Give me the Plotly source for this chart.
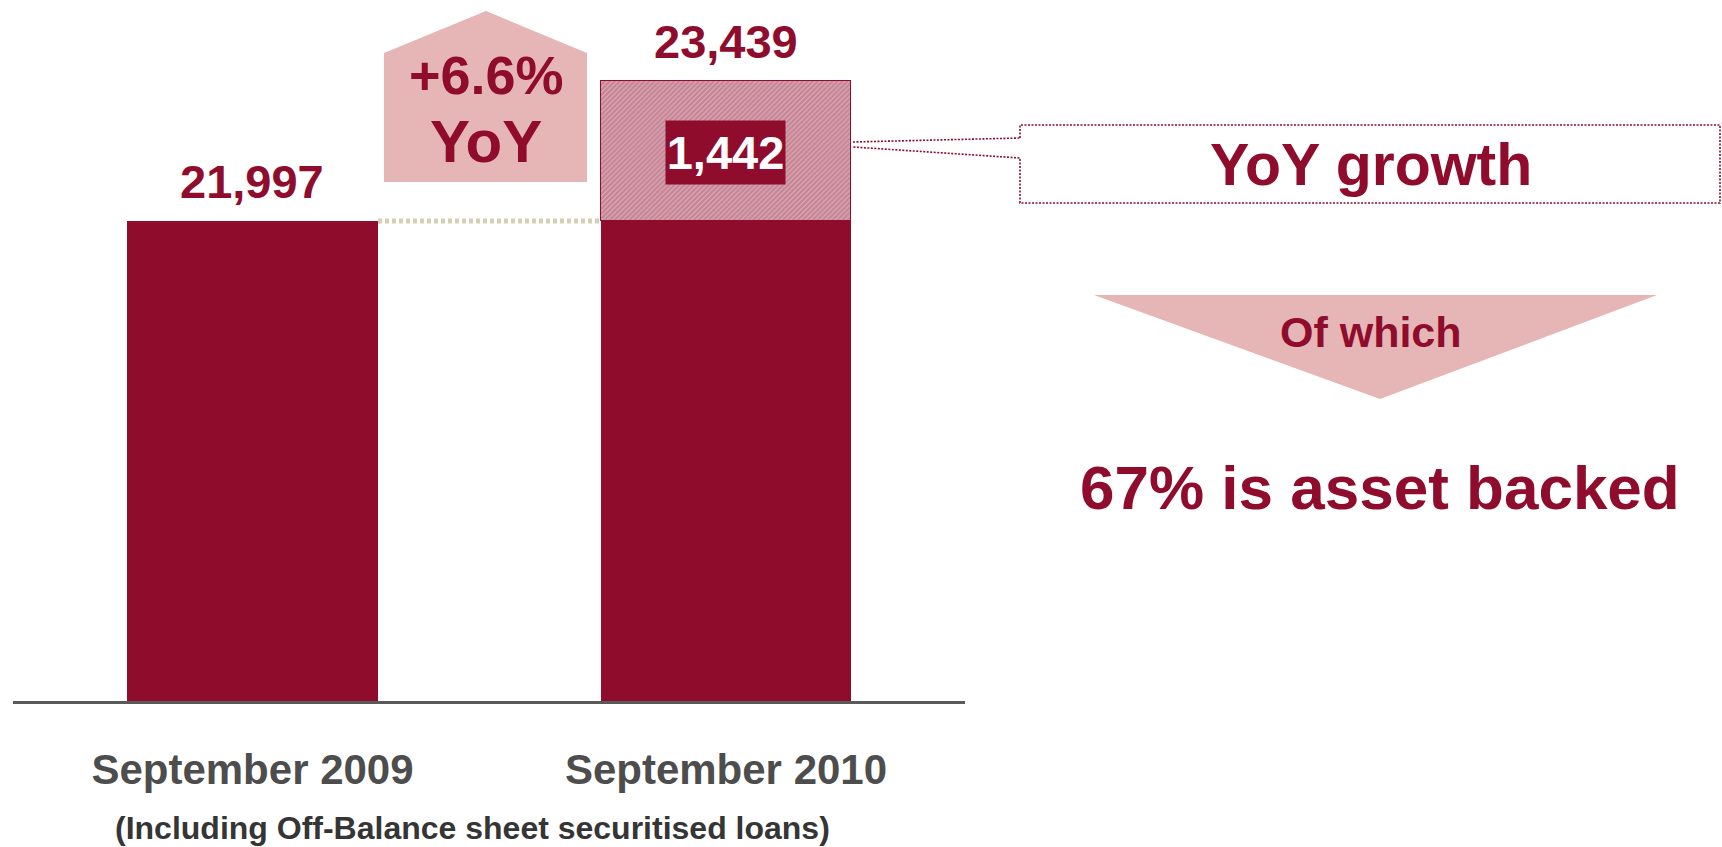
import plotly.graph_objects as go

# Canvas size in pixels
W, H = 1722, 847

# ---- data -------------------------------------------------------------
categories = ["September 2009", "September 2010"]
totals = [21997, 23439]
base_level = [totals[0], totals[0]]            # prior-year level in both bars
growth = [None, totals[1] - totals[0]]         # year-on-year increment
asset_backed_share = 67                        # % of the growth that is asset backed
footnote = "(Including Off-Balance sheet securitised loans)"

# ---- styling ----------------------------------------------------------
DARK = "#8F0C2D"
PINK = "#E6B5B5"
BEIGE = "#D6CFB4"
AXIS_GREY = "#5A5A5A"
LABEL_GREY = "#4D4D4D"
NOTE_GREY = "#353535"
FONT = "Liberation Sans, Arial, Helvetica, sans-serif"

BAR_WIDTH = 0.53


def px(x):
    """pixel x -> paper x (margins are zero, so paper spans the canvas)"""
    return x / W


def py(y):
    """pixel y (from top) -> paper y"""
    return 1 - y / H


def path(points):
    pts = [f"{px(x):.5f},{py(y):.5f}" for x, y in points]
    return "M" + " L".join(pts) + " Z"


def open_path(points):
    pts = [f"{px(x):.5f},{py(y):.5f}" for x, y in points]
    return "M" + " L".join(pts)


fig = go.Figure()

fig.add_trace(go.Bar(
    x=[0, 1], y=base_level, width=BAR_WIDTH,
    marker=dict(color=DARK, line=dict(width=0)),
    hoverinfo="skip", showlegend=False,
))
fig.add_trace(go.Bar(
    x=[0, 1], y=growth, width=BAR_WIDTH,
    marker=dict(
        color="white",
        line=dict(color=DARK, width=1.2),
        pattern=dict(shape="/", fgcolor=DARK, bgcolor="white",
                     size=3.5, solidity=0.9, fillmode="overlay"),
    ),
    hoverinfo="skip", showlegend=False,
))

# truncated value axis: scale set so the increment is legible
growth_val = totals[1] - totals[0]
k = 140 / growth_val                      # pixels per unit
y_bottom = totals[0] - 480 / k
y_top = totals[1] + 81 / k

fig.update_layout(
    width=W, height=H,
    margin=dict(l=0, r=0, t=0, b=0),
    paper_bgcolor="white", plot_bgcolor="white",
    barmode="stack", bargap=0,
    font=dict(family=FONT),
    xaxis=dict(
        domain=[13 / W, 965 / W],
        range=[-0.5058, 1.5048],
        tickvals=[0, 1], ticktext=categories,
        tickfont=dict(size=42, color=LABEL_GREY, family=FONT, weight="bold"),
        ticks="", ticklabelstandoff=30,
        showline=True, linecolor=AXIS_GREY, linewidth=3,
        showgrid=False, zeroline=False, fixedrange=True,
    ),
    yaxis=dict(
        domain=[(H - 701) / H, 1],
        range=[y_bottom, y_top],
        visible=False, showgrid=False, zeroline=False, fixedrange=True,
    ),
)

shapes = []
annotations = []

# dotted guide at the prior-year level between the bars
shapes.append(dict(
    type="line", xref="x", yref="y",
    x0=BAR_WIDTH / 2, x1=1 - BAR_WIDTH / 2, y0=totals[0], y1=totals[0],
    line=dict(color=BEIGE, width=5, dash="4px,3px"), layer="above",
))

# "+x% YoY" house-shaped badge
shapes.append(dict(
    type="path", xref="paper", yref="paper",
    path=path([(384, 182), (384, 53), (486, 11), (587, 53), (587, 182)]),
    fillcolor=PINK, line=dict(width=0), layer="below",
))
pct = growth_val / totals[0] * 100
annotations.append(dict(
    xref="paper", yref="paper", x=px(486), y=py(75),
    text=f"+{pct:.1f}%", showarrow=False, xanchor="center", yanchor="middle",
    font=dict(size=54, color=DARK, family=FONT, weight="bold"),
))
annotations.append(dict(
    xref="paper", yref="paper", x=px(486), y=py(142),
    text="YoY", showarrow=False, xanchor="center", yanchor="middle",
    font=dict(size=60, color=DARK, family=FONT, weight="bold"),
))

# bar totals
for i, v in enumerate(totals):
    annotations.append(dict(
        xref="x", yref="y", x=i, y=v,
        text=f"{v:,}", showarrow=False, xanchor="center", yanchor="middle",
        yshift=40,
        font=dict(size=47, color=DARK, family=FONT, weight="bold"),
    ))

# increment label inside the hatched segment
annotations.append(dict(
    xref="x", yref="y", x=1, y=totals[0] + growth_val / 2,
    text=f"{growth_val:,}", showarrow=False, xanchor="center", yanchor="middle",
    yshift=-1.5,
    bgcolor=DARK, width=115, height=59, borderpad=2,
    font=dict(size=47, color="white", family=FONT, weight="bold"),
))

# callout box linked to the increment
shapes.append(dict(
    type="path", xref="paper", yref="paper",
    path=open_path([(1020, 138), (1020, 125), (1720, 125), (1720, 203),
                    (1020, 203), (1020, 158), (853, 147)]),
    line=dict(color=DARK, width=1.6, dash="2px,1.5px"), layer="above",
))
shapes.append(dict(
    type="path", xref="paper", yref="paper",
    path=open_path([(853, 142), (1020, 138)]),
    line=dict(color=DARK, width=1.6, dash="2px,1.5px"), layer="above",
))
annotations.append(dict(
    xref="paper", yref="paper", x=px(1371), y=py(165),
    text="YoY growth", showarrow=False, xanchor="center", yanchor="middle",
    font=dict(size=59, color=DARK, family=FONT, weight="bold"),
))

# downward arrow with breakdown
shapes.append(dict(
    type="path", xref="paper", yref="paper",
    path=path([(1094, 295), (1657, 295), (1380, 399)]),
    fillcolor=PINK, line=dict(width=0), layer="below",
))
annotations.append(dict(
    xref="paper", yref="paper", x=px(1371), y=py(332),
    text="Of which", showarrow=False, xanchor="center", yanchor="middle",
    font=dict(size=43, color=DARK, family=FONT, weight="bold"),
))
annotations.append(dict(
    xref="paper", yref="paper", x=px(1380), y=py(487),
    text=f"{asset_backed_share}% is asset backed", showarrow=False,
    xanchor="center", yanchor="middle",
    font=dict(size=62, color=DARK, family=FONT, weight="bold"),
))

# footnote under the category labels
annotations.append(dict(
    xref="paper", yref="paper", x=px(472), y=py(828),
    text=footnote, showarrow=False, xanchor="center", yanchor="middle",
    font=dict(size=32, color=NOTE_GREY, family=FONT, weight="bold"),
))

fig.update_layout(shapes=shapes, annotations=annotations)

fig.write_html("out.html")
